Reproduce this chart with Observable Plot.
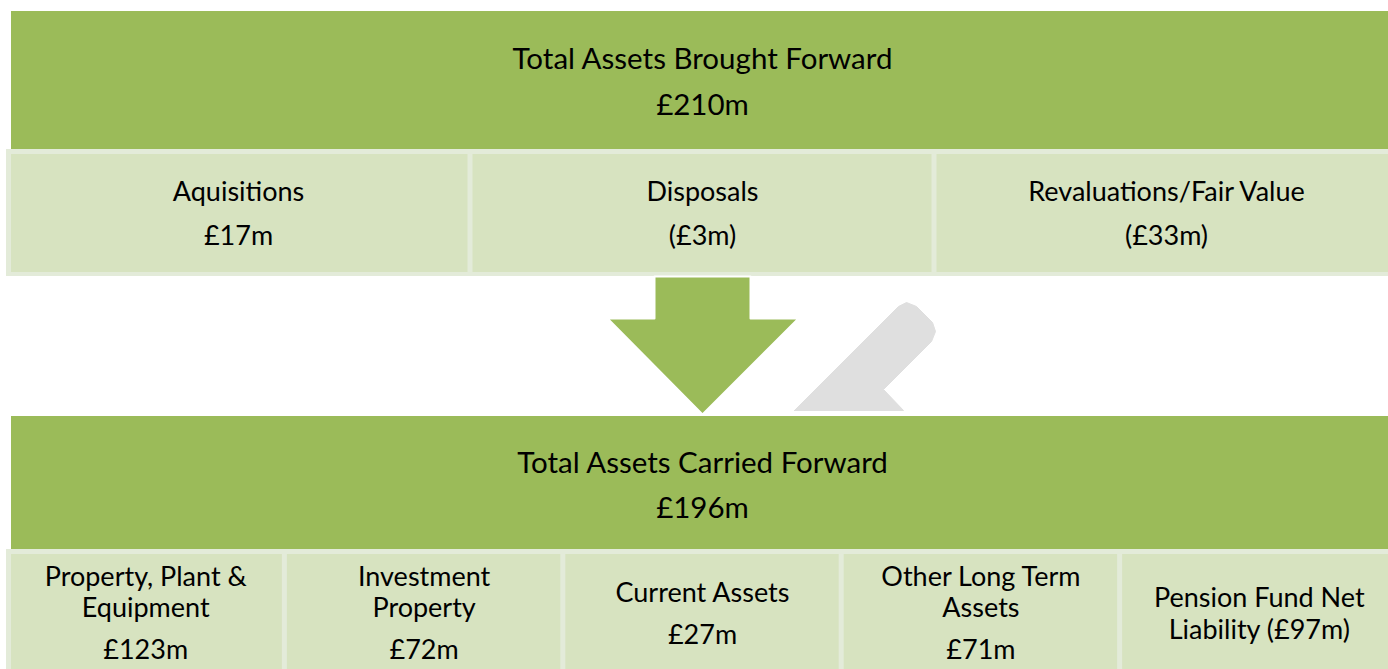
<!DOCTYPE html>
<html>
<head>
<meta charset="utf-8">
<script src="https://cdn.jsdelivr.net/npm/d3@7"></script>
<script src="https://cdn.jsdelivr.net/npm/@observablehq/plot@0.6"></script>
<style>
  html, body { margin: 0; padding: 0; background: #ffffff; }
  #chart svg { display: block; }
</style>
</head>
<body>
<div id="chart"></div>
<script>
// ---- data ----
const headerTitles = ["Total Assets Brought Forward", "Total Assets Carried Forward"];
const headerValues = ["£210m", "£196m"];
const movementLabels = ["Aquisitions", "Disposals", "Revaluations/Fair Value"];
const movementValues = ["£17m", "(£3m)", "(£33m)"];
const assetLabels = [
  ["Property, Plant &", "Equipment"],
  ["Investment", "Property"],
  ["Current Assets"],
  ["Other Long Term", "Assets"],
  ["Pension Fund Net", "Liability (£97m)"]
];
const assetValues = ["£123m", "£72m", "£27m", "£71m", ""];

// ---- layout ----
const W = 1388, H = 669;
const GREEN = "#9bbb59", LIGHT = "#d7e3c0", EDGE = "#e3ebd9", GREY = "#dfdfdf";
const left = 6, right = 1398;
const HEAD_FONT = 29.5, BOX_FONT = 27;

const bands = [
  {x1: 11, x2: right - 5, y1: 11, y2: 149, fill: GREEN},
  {x1: left, x2: right, y1: 149, y2: 276, fill: EDGE},
  {x1: 11, x2: right - 5, y1: 416, y2: 549, fill: GREEN},
  {x1: left, x2: right, y1: 549, y2: 690, fill: EDGE}
];

function cells(n, y1, y2) {
  const w = (right - left) / n;
  return d3.range(n).map(i => ({
    i,
    x1: left + i * w + (i === 0 ? 5 : 2.5),
    x2: left + (i + 1) * w - 2.5,
    y1: y1 + 5, y2: y2 - 4,
    cx: left + (i + 0.5) * w
  }));
}
const row1 = cells(movementLabels.length, 149, 276);
const row2 = cells(assetLabels.length, 549, 700);

const headTexts = [];
[[headerTitles[0], headerValues[0], 59, 105], [headerTitles[1], headerValues[1], 463, 508]].forEach(([t, v, y1, y2]) => {
  headTexts.push({x: 702, y: y1, t});
  headTexts.push({x: 702, y: y2, t: v});
});
const boxTexts = [];
row1.forEach((c, i) => {
  boxTexts.push({x: c.cx, y: 192, t: movementLabels[i]});
  boxTexts.push({x: c.cx, y: 236, t: movementValues[i]});
});
row2.forEach((c, i) => {
  const lines = assetLabels[i];
  const val = assetValues[i];
  if (val) {
    if (lines.length === 2) {
      boxTexts.push({x: c.cx, y: 577, t: lines[0]});
      boxTexts.push({x: c.cx, y: 608, t: lines[1]});
      boxTexts.push({x: c.cx, y: 650, t: val});
    } else {
      boxTexts.push({x: c.cx, y: 593, t: lines[0]});
      boxTexts.push({x: c.cx, y: 635, t: val});
    }
  } else {
    boxTexts.push({x: c.cx, y: 598, t: lines[0]});
    boxTexts.push({x: c.cx, y: 630, t: lines[1]});
  }
});

// arrow and grey pencil shape outlines
const arrow = [
  [654, 276], [750, 276], [750, 318], [798, 318], [702, 414], [607, 318], [654, 318], [654, 276]
];
const pencil = [
  [794, 410], [903, 410], [883, 389], [931, 341], [935, 331], [932, 322],
  [916, 306], [906, 302], [898, 306], [794, 410]
];

const plot = Plot.plot({
  width: W, height: H,
  margin: 0,
  x: {domain: [0, W], axis: null},
  y: {domain: [0, H], reverse: true, axis: null},
  style: {background: "#ffffff", fontFamily: "Lato, 'Open Sans', sans-serif"},
  marks: [
    Plot.rect(bands, {x1: "x1", x2: "x2", y1: "y1", y2: "y2", fill: "fill"}),
    Plot.rect(row1, {x1: "x1", x2: "x2", y1: "y1", y2: "y2", fill: LIGHT}),
    Plot.rect(row2, {x1: "x1", x2: "x2", y1: "y1", y2: "y2", fill: LIGHT}),
    Plot.line(pencil, {x: d => d[0], y: d => d[1], fill: GREY, stroke: GREY, strokeWidth: 1, curve: "linear"}),
    Plot.line(arrow, {x: d => d[0], y: d => d[1], fill: GREEN, stroke: "#ffffff", strokeWidth: 2, curve: "linear"}),
    Plot.text(headTexts, {x: "x", y: "y", text: "t", fontSize: HEAD_FONT, fill: "#000000"}),
    Plot.text(boxTexts, {x: "x", y: "y", text: "t", fontSize: BOX_FONT, fill: "#000000"})
  ]
});
document.getElementById("chart").append(plot);
</script>
</body>
</html>
